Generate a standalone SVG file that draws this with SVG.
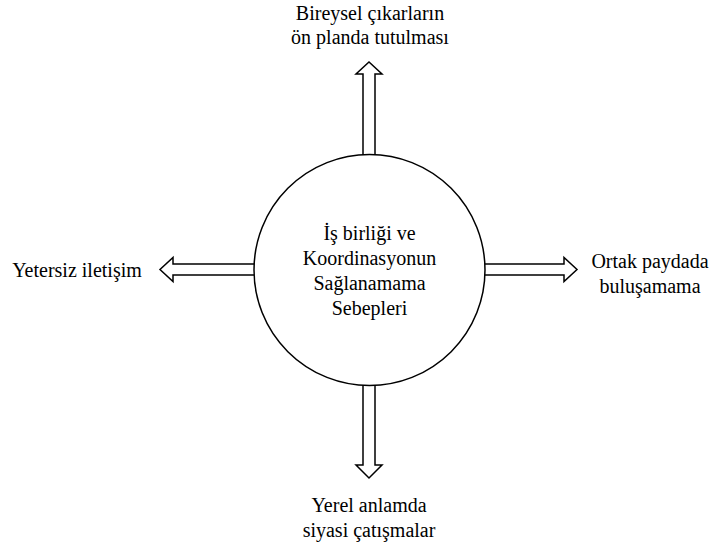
<svg xmlns="http://www.w3.org/2000/svg" width="716" height="547" viewBox="0 0 716 547">
<style>
.t{font-family:"Liberation Serif","Times New Roman",serif;font-size:20px;fill:#000;text-anchor:middle}
.a{fill:#fff;stroke:#000;stroke-width:1.5;stroke-linejoin:miter}
.c{fill:#fff;stroke:#000;stroke-width:1.5}
</style>
<rect width="716" height="547" fill="#fff"/>
<g id="connectors">
<polygon class="a" points="363,156 363,74 356,74 369,62 382,74 375,74 375,156"/>
<polygon class="a" points="363,384 363,465 356,465 369,478 382,465 375,465 375,384"/>
<polygon class="a" points="255,264 173,264 173,257.5 160,269.5 173,281.5 173,275 255,275"/>
<polygon class="a" points="484,264 564,264 564,257.5 577,269.5 564,281.5 564,275 484,275"/>
</g>
<g id="center">
<circle class="c" cx="369.5" cy="270" r="115.5"/>
<text class="t" x="369.5" y="240">İş birliği ve</text>
<text class="t" x="369.5" y="265">Koordinasyonun</text>
<text class="t" x="369.5" y="290">Sağlanamama</text>
<text class="t" x="369.5" y="315">Sebepleri</text>
</g>
<g id="top">
<text class="t" x="370" y="20">Bireysel çıkarların</text>
<text class="t" x="370" y="44">ön planda tutulması</text>
</g>
<g id="left">
<text class="t" x="77" y="277">Yetersiz iletişim</text>
</g>
<g id="right">
<text class="t" x="650" y="268">Ortak paydada</text>
<text class="t" x="650" y="293">buluşamama</text>
</g>
<g id="bottom">
<text class="t" x="369" y="512">Yerel anlamda</text>
<text class="t" x="369" y="537">siyasi çatışmalar</text>
</g>
</svg>
